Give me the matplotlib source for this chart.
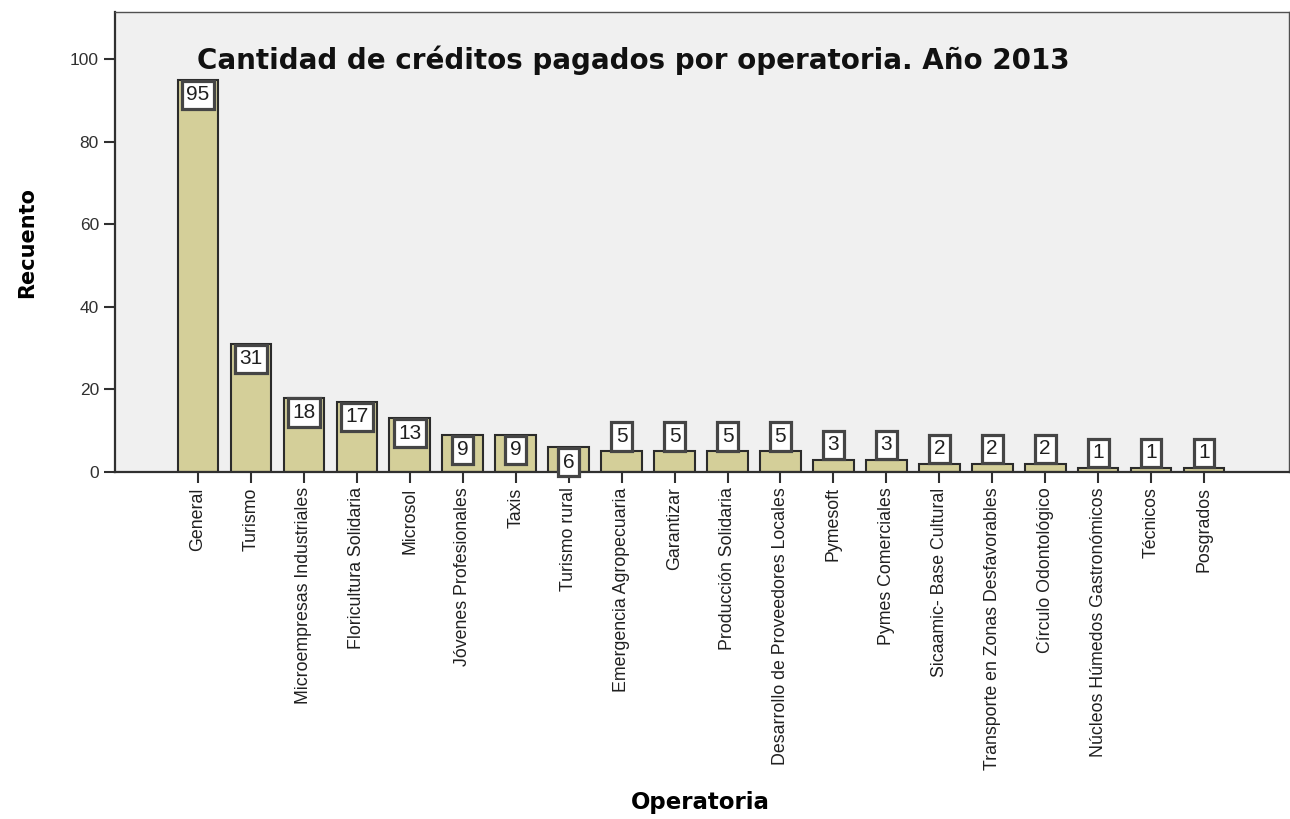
import matplotlib.pyplot as plt
import numpy as np

# datos del grafico
operatorias = ["General", "Turismo", "Microempresas Industriales", "Floricultura Solidaria",
               "Microsol", "Jóvenes Profesionales", "Taxis", "Turismo rural",
               "Emergencia Agropecuaria", "Garantizar", "Producción Solidaria",
               "Desarrollo de Proveedores Locales", "Pymesoft", "Pymes Comerciales",
               "Sicaamic- Base Cultural", "Transporte en Zonas Desfavorables",
               "Círculo Odontológico", "Núcleos Húmedos Gastronómicos", "Técnicos", "Posgrados"]
recuento = [95, 31, 18, 17, 13, 9, 9, 6, 5, 5, 5, 5, 3, 3, 2, 2, 2, 1, 1, 1]
yticks = [0, 20, 40, 60, 80, 100]

plt.rcParams['font.family'] = ['Liberation Sans', 'DejaVu Sans']

fig = plt.figure(figsize=(12.9, 8.19), dpi=100)
ax = fig.add_axes([0.0891, 0.4237, 0.9099, 0.5616])
ax.set_facecolor('#F0F0F0')

x = np.arange(len(operatorias))
ax.bar(x, recuento, width=0.77, color='#D4CF99', edgecolor='#2b2b2b', linewidth=1.5, zorder=2)

#etiquetas de valor
box = dict(boxstyle='square,pad=0.22', fc='white', ec='#454545', lw=2.3)
for xi, v in zip(x, recuento):
    if v >= 6:
        ax.text(xi, v - 1.3, str(v), ha='center', va='top', fontsize=15, color='#202020', zorder=3, bbox=box)
    else:
        ax.text(xi, v + 1.3, str(v), ha='center', va='bottom', fontsize=15, color='#202020', zorder=3, bbox=box)

ax.set_xlim(-1.57, 20.6)
ax.set_ylim(0, 111.4)
ax.set_yticks(yticks)
ax.set_yticklabels([str(t) for t in yticks], fontsize=12.5, color='#303030')
ax.set_xticks(x)
ax.set_xticklabels(operatorias, rotation=90, fontsize=12.8, color='#202020')
ax.tick_params(axis='both', length=8, width=1.5, color='#303030')
ax.tick_params(axis='x', pad=3)

for s in ['left', 'bottom']:
    ax.spines[s].set_linewidth(1.6)
    ax.spines[s].set_color('#303030')
for s in ['top', 'right']:
    ax.spines[s].set_linewidth(1)
    ax.spines[s].set_color('#505050')

ax.text(-0.02, 99.8, "Cantidad de créditos pagados por operatoria. Año 2013", fontsize=20,
        fontweight='bold', family='DejaVu Sans', ha='left', va='center', color='#111111', zorder=4)

ax.set_ylabel("Recuento", fontsize=15, fontweight='bold', family='DejaVu Sans', labelpad=24)
fig.text(0.543, 0.02, "Operatoria", fontsize=16.5, fontweight='bold', family='DejaVu Sans',
         ha='center', va='center')

plt.savefig('out.png', dpi=100)
